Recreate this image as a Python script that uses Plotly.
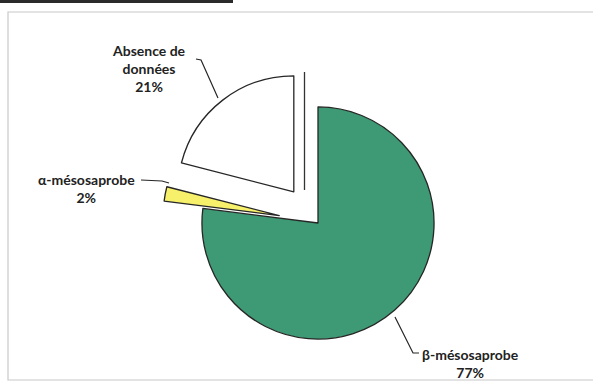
import plotly.graph_objects as go

W, H = 593, 383

labels = ["β-mésosaprobe", "α-mésosaprobe", "Absence de données"]
values = [77, 2, 21]
colors = ["#3e9a74", "#f7f06a", "#ffffff"]
pulls = [0, 0.34, 0.34]
label_text = ["β-mésosaprobe<br>77%", "α-mésosaprobe<br>2%", "Absence de<br>données<br>21%"]


def px(x, y):
    # page pixels -> paper coords
    return x / W, 1 - y / H


fig = go.Figure()

x0, y1 = px(162.5, 67.5)
x1, y0 = px(473.5, 378.5)

fig.add_trace(
    go.Pie(
        labels=labels,
        values=values,
        sort=False,
        direction="clockwise",
        rotation=0,
        pull=pulls,
        textinfo="none",
        hoverinfo="label+percent",
        marker=dict(colors=colors, line=dict(color="#262626", width=1.3)),
        domain=dict(x=[x0, x1], y=[y0, y1]),
        showlegend=False,
    )
)

font = dict(family="Lato, Open Sans, sans-serif", size=14, color="#222222")

# label centres in page pixels
label_pos = [(471, 363), (86, 188), (149, 68)]
for txt, (lx, ly) in zip(label_text, label_pos):
    ax_, ay_ = px(lx, ly)
    fig.add_annotation(
        x=ax_, y=ay_, xref="paper", yref="paper",
        xanchor="center", yanchor="middle",
        text="<b>" + txt + "</b>", showarrow=False,
        font=font, align="center",
    )

# leader lines (page pixels)
leaders = [
    [(395, 317), (413, 353), (419, 353)],
    [(141, 180), (162, 181), (169, 183)],
    [(196, 59), (201, 60), (218, 98)],
]
shapes = []
for pts in leaders:
    path = ""
    for i, (lx, ly) in enumerate(pts):
        qx, qy = px(lx, ly)
        path += ("M" if i == 0 else " L") + f"{qx:.4f},{qy:.4f}"
    shapes.append(dict(type="path", xref="paper", yref="paper", path=path,
                       line=dict(color="#262626", width=1.2)))

# shadow edge beside the exploded slice
sx, sy0 = px(304.5, 72)
_, sy1 = px(304.5, 190)
shapes.append(dict(type="line", xref="paper", yref="paper", x0=sx, x1=sx, y0=sy0, y1=sy1,
                   line=dict(color="#333333", width=1.3)))

# chart frame
fx0, fy0 = px(8, 380)
fx1, fy1 = px(600, 12)
shapes.append(dict(type="rect", xref="paper", yref="paper", x0=fx0, y0=fy0, x1=fx1, y1=fy1,
                   line=dict(color="#c8c8c8", width=1.2), layer="below"))

# dark strip at top-left of the scan
bx0, by0 = px(0, 3)
bx1, by1 = px(233, 0)
shapes.append(dict(type="rect", xref="paper", yref="paper", x0=bx0, y0=by0, x1=bx1, y1=by1,
                   line=dict(width=0), fillcolor="#2a2a2a"))

fig.update_layout(
    width=W,
    height=H,
    margin=dict(l=0, r=0, t=0, b=0),
    paper_bgcolor="white",
    plot_bgcolor="white",
    shapes=shapes,
    showlegend=False,
)

fig.write_html("out.html", config={"displayModeBar": False},
               post_script="document.body.style.margin='0';")
